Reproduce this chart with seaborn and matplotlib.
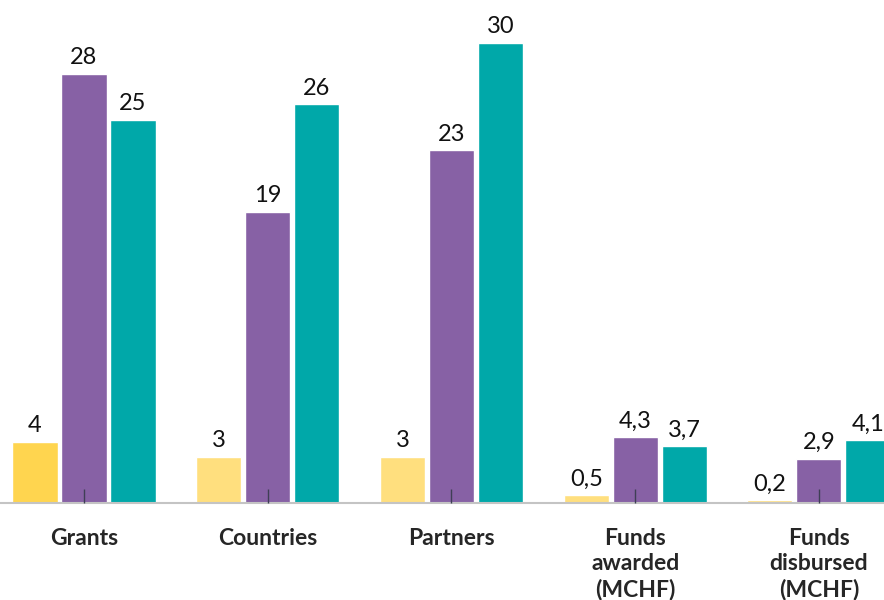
#!/usr/bin/env python3

""" Grouped bar chart of grants, countries, partners and funds
"""

import pandas as pd
import seaborn as sns
import matplotlib.pyplot as plt

#########################################################
### Data ###
#########################################################

categories = ['Grants', 'Countries', 'Partners',
              'Funds\nawarded\n(MCHF)', 'Funds\ndisbursed\n(MCHF)']
series_names = ['Series 1', 'Series 2', 'Series 3']
series1 = [4, 3, 3, 0.5, 0.2]
series2 = [28, 19, 23, 4.3, 2.9]
series3 = [25, 26, 30, 3.7, 4.1]

colors = ['#FFDF7E', '#8761A5', '#00A8A9']
first_bar_color = '#FFD54F'

# long-form table for seaborn
rows = []
for name, vals in zip(series_names, [series1, series2, series3]):
    for cat, v in zip(categories, vals):
        rows.append({'Category': cat, 'Series': name, 'Value': v})
df = pd.DataFrame(rows)

#########################################################
### Plot ###
#########################################################

sns.set_style('white')
plt.rcParams['font.family'] = ['Lato', 'DejaVu Sans']

fig = plt.figure(figsize=(8.84, 6), dpi=100, facecolor='w')
ax = fig.add_axes([0, 97 / 600, 1, 503 / 600])

sns.barplot(data=df, x='Category', y='Value', hue='Series',
            palette=colors, saturation=1, gap=0.08, width=0.8,
            legend=False, ax=ax)

# first yellow bar is a slightly stronger shade
ax.containers[0].patches[0].set_facecolor(first_bar_color)

# value labels with comma decimal separator
for cont in ax.containers:
    labels = []
    for bar in cont:
        v = bar.get_height()
        s = f'{v:g}'.replace('.', ',')
        labels.append(s)
    ax.bar_label(cont, labels=labels, padding=4, fontsize=17, color='#111111')

ax.set_xlim(-0.457, 4.354)
ax.set_ylim(0, 32.8)
ax.set_xlabel('')
ax.set_ylabel('')
ax.set_yticks([])
ax.set_axisbelow(False)
ax.xaxis.set_zorder(5)

for side in ['top', 'right', 'left']:
    ax.spines[side].set_visible(False)
ax.spines['bottom'].set_color('#C4C4C4')
ax.spines['bottom'].set_linewidth(1.5)

# small inward ticks at group centres
ax.tick_params(axis='x', bottom=True, direction='in', length=10, width=1,
               color='#3F3F55', pad=18, labelsize=16.5)
for lab in ax.get_xticklabels():
    lab.set_fontweight('bold')
    lab.set_verticalalignment('top')
    lab.set_linespacing(1.25)

fig.savefig('out.png', dpi=100)
